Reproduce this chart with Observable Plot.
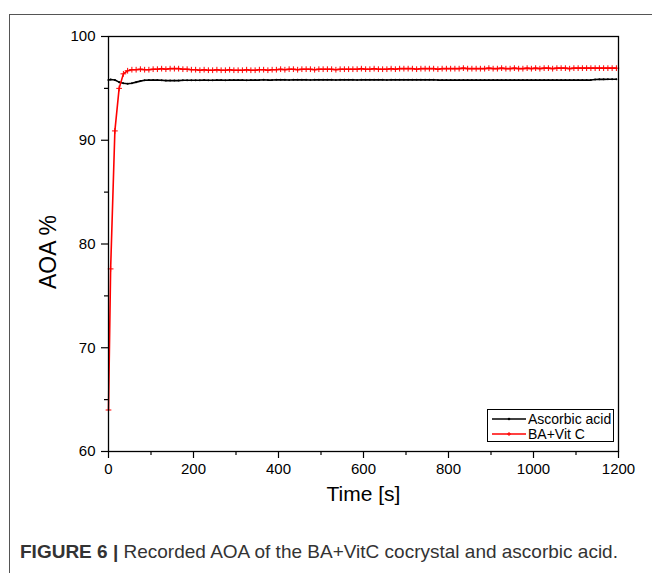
<!DOCTYPE html>
<html><head><meta charset="utf-8">
<script src="https://cdn.jsdelivr.net/npm/d3@7"></script>
<script src="https://cdn.jsdelivr.net/npm/@observablehq/plot@0.6"></script>
<style>
body{margin:0;background:#fff;font-family:"Liberation Sans",Arial,sans-serif;}
#wrap{position:relative;width:652px;height:573px;overflow:hidden;background:#fff;}
#border{position:absolute;left:9px;top:14px;right:-5px;bottom:-5px;border-left:1px solid #555;border-top:1px solid #555;}
#chart{position:absolute;left:0;top:0;}
#chart svg g[aria-label="x-axis tick label"] text,
#chart svg g[aria-label="y-axis tick label"] text{font-size:15px !important;fill:#000;}
#legend{position:absolute;left:487px;top:409px;width:125px;height:31px;border:1px solid #000;background:#fff;font-size:14px;color:#000;}
.row{position:absolute;left:0;height:14px;line-height:14px;white-space:nowrap;}
.row svg{position:absolute;left:4px;top:0;}
.row span{position:absolute;left:40px;top:0;}
#caption{position:absolute;left:20px;top:541px;font-size:19px;color:#333;white-space:nowrap;}
</style></head>
<body>
<div id="wrap">
  <div id="border"></div>
  <div id="chart"></div>
  <div id="legend"></div>
  <div id="caption"><b>FIGURE 6 |</b> Recorded AOA of the BA+VitC cocrystal and ascorbic acid.</div>
</div>
<script>
const times = [0, 5, 15, 25, 35, 45, 55, 65, 75, 85, 95, 105,
  115, 125, 135, 145, 155, 165, 175, 185, 195,
  205, 215, 225, 235, 245, 255, 265, 275, 285, 295, 305, 315, 325, 335, 345, 355, 365, 375, 385, 395,
  405, 415, 425, 435, 445, 455, 465, 475, 485, 495, 505, 515, 525, 535, 545, 555, 565, 575, 585, 595,
  605, 615, 625, 635, 645, 655, 665, 675, 685, 695,
  705, 715, 725, 735, 745, 755, 765, 775, 785, 795, 805, 815, 825, 835, 845, 855, 865, 875, 885, 895,
  905, 915, 925, 935, 945, 955, 965, 975, 985, 995, 1005, 1015, 1025, 1035, 1045, 1055, 1065, 1075, 1085, 1095,
  1105, 1115, 1125, 1135, 1145, 1155, 1165, 1175, 1185, 1195];

const baVitC = [64.0, 77.6, 90.9, 95.0, 96.4, 96.7, 96.8, 96.8, 96.85, 96.8, 96.8, 96.85,
  96.85, 96.9, 96.85, 96.9, 96.9, 96.9, 96.85, 96.85, 96.8,
  96.8, 96.75, 96.8, 96.75, 96.75, 96.8, 96.75, 96.75, 96.8, 96.75, 96.75, 96.75, 96.8, 96.75, 96.75, 96.8, 96.8, 96.75, 96.8, 96.8,
  96.85, 96.8, 96.85, 96.85, 96.8, 96.85, 96.85, 96.85, 96.8, 96.85, 96.85, 96.85, 96.85, 96.8, 96.85, 96.85, 96.85, 96.85, 96.85, 96.9,
  96.85, 96.85, 96.9, 96.85, 96.85, 96.85, 96.9, 96.85, 96.9, 96.9,
  96.9, 96.9, 96.85, 96.9, 96.9, 96.9, 96.9, 96.85, 96.9, 96.9, 96.9, 96.9, 96.9, 96.95, 96.9, 96.9, 96.9, 96.9, 96.9, 96.95,
  96.9, 96.9, 96.95, 96.9, 96.9, 96.95, 96.9, 96.9, 96.95, 96.9, 96.95, 96.9, 96.95, 96.95, 96.9, 96.95, 96.95, 96.95, 96.9, 96.95,
  96.95, 96.95, 96.95, 96.95, 96.95, 96.95, 96.95, 96.95, 96.95, 96.95];

const ascorbic = [95.8, 95.85, 95.8, 95.6, 95.5, 95.45, 95.5, 95.6, 95.7, 95.78, 95.8, 95.8,
  95.8, 95.78, 95.75, 95.75, 95.75, 95.75, 95.78, 95.78, 95.78,
  95.78, 95.78, 95.8, 95.78, 95.78, 95.8, 95.8, 95.78, 95.8, 95.8, 95.8, 95.8, 95.78, 95.8, 95.8, 95.8, 95.82, 95.8, 95.8, 95.82,
  95.82, 95.82, 95.8, 95.82, 95.82, 95.82, 95.82, 95.8, 95.82, 95.82, 95.82, 95.82, 95.82, 95.8, 95.82, 95.82, 95.82, 95.82, 95.8, 95.82,
  95.82, 95.82, 95.82, 95.82, 95.82, 95.8, 95.82, 95.82, 95.82, 95.82,
  95.82, 95.82, 95.82, 95.82, 95.82, 95.82, 95.82, 95.8, 95.8, 95.8, 95.8, 95.8, 95.8, 95.8, 95.8, 95.8, 95.8, 95.8, 95.8, 95.8,
  95.8, 95.8, 95.8, 95.8, 95.8, 95.8, 95.8, 95.8, 95.8, 95.8, 95.8, 95.8, 95.8, 95.8, 95.8, 95.8, 95.8, 95.8, 95.8, 95.8,
  95.8, 95.8, 95.8, 95.8, 95.85, 95.87, 95.87, 95.88, 95.88, 95.88];

const seriesNames = ["Ascorbic acid", "BA+Vit C"];
const seriesColors = ["#000000", "#ff0000"];
const xTicks = [0, 200, 400, 600, 800, 1000, 1200];
const xMinor = [100, 300, 500, 700, 900, 1100];
const yTicks = [60, 70, 80, 90, 100];
const yMinor = [65, 75, 85, 95];

const blackData = times.map((t, i) => ({t, v: ascorbic[i]}));
const redData = times.map((t, i) => ({t, v: baVitC[i]}));

const chart = Plot.plot({
  width: 652, height: 520,
  marginLeft: 108, marginRight: 34, marginTop: 36, marginBottom: 69,
  x: {domain: [0, 1200]},
  y: {domain: [60, 100]},
  style: {fontFamily: "'Liberation Sans', Arial, sans-serif", fontSize: "15px", color: "#000", background: "transparent", overflow: "visible"},
  marks: [
    Plot.axisX({ticks: xTicks, tickSize: 7, tickPadding: 5, label: null, tickFormat: d => String(d), fontSize: 15, stroke: "#000", strokeWidth: 1.2, fill: "#000"}),
    Plot.axisX({ticks: xMinor, tickSize: 4, label: null, tickFormat: () => "", stroke: "#000", strokeWidth: 1.2}),
    Plot.axisY({ticks: yTicks, tickSize: 7, tickPadding: 6, label: null, tickFormat: d => String(d), fontSize: 15, stroke: "#000", strokeWidth: 1.2, fill: "#000"}),
    Plot.axisY({ticks: yMinor, tickSize: 4, label: null, tickFormat: () => "", stroke: "#000", strokeWidth: 1.2}),
    Plot.line(blackData, {x: "t", y: "v", stroke: seriesColors[0], strokeWidth: 1.6}),
    Plot.dot(blackData, {x: "t", y: "v", r: 1, fill: seriesColors[0], stroke: null}),
    Plot.line(redData, {x: "t", y: "v", stroke: seriesColors[1], strokeWidth: 1.6}),
    Plot.dot(redData, {x: "t", y: "v", symbol: "plus", r: 2, stroke: seriesColors[1], strokeWidth: 1}),
    Plot.frame({stroke: "#000", strokeWidth: 1.3}),
    Plot.text(["Time [s]"], {text: d => d, frameAnchor: "bottom", dy: 49, fontSize: 21, fill: "#000"}),
    Plot.text(["AOA %"], {text: d => d, frameAnchor: "left", textAnchor: "middle", dx: -60, dy: 8, rotate: -90, fontSize: 23, fill: "#000"})
  ]
});
document.getElementById("chart").appendChild(chart);

const legend = document.getElementById("legend");
seriesNames.forEach((name, i) => {
  const row = document.createElement("div");
  row.className = "row";
  row.style.top = (2 + i * 15) + "px";
  row.innerHTML = `<svg width="34" height="14"><line x1="0" x2="34" y1="7" y2="7" stroke="${seriesColors[i]}" stroke-width="1.6"/>` +
    (i === 0 ? `<circle cx="17" cy="7" r="1.3" fill="${seriesColors[i]}"/>` : `<path d="M15,7h4M17,5v4" stroke="${seriesColors[i]}" stroke-width="1"/>`) +
    `</svg><span>${name}</span>`;
  legend.appendChild(row);
});
</script>
</body></html>
